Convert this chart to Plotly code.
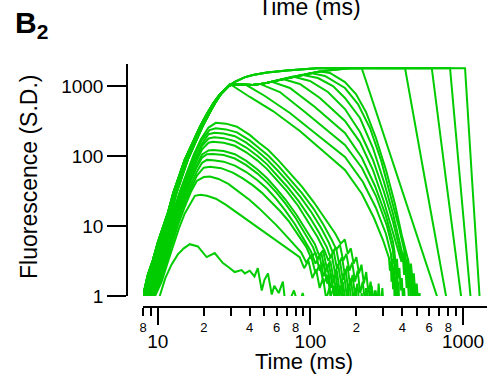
import plotly.graph_objects as go

# ---------------- data: time (ms) and fluorescence (S.D.) ----------------
# shared rising phase (three slightly shifted versions of the bundle)
RISE_A_T = [7.9, 8.0, 8.6, 9.3, 10.0, 10.8, 11.7, 12.6, 13.8, 15.0, 16.8, 18.9, 21.0, 23.1, 25.5, 28.7]
RISE_A_F = [0.8, 1.0, 2.0, 3.3, 5.8, 9.8, 16, 29, 50, 88, 150, 262, 400, 564, 760, 981]
RISE_B_T = [8.2, 8.3, 8.9, 9.6, 10.3, 11.1, 12.0, 12.9, 14.1, 15.4, 17.2, 19.3, 21.4, 23.5, 25.9, 29.2]
RISE_B_F = [0.8, 1.0, 2.0, 3.3, 5.8, 9.8, 16, 29, 50, 88, 150, 262, 400, 570, 770, 1000]
RISE_C_T = [8.5, 8.6, 9.2, 9.9, 10.6, 11.4, 12.3, 13.2, 14.4, 15.7, 17.5, 19.6, 21.7, 23.8, 26.2, 29.6]
RISE_C_F = [0.8, 1.0, 2.0, 3.3, 5.8, 9.8, 16, 29, 50, 88, 150, 262, 400, 575, 790, 1030]

# saturating band (upper and lower edge) and plateau
UPPER_T = [32, 37, 42, 52, 70, 90, 110, 130, 155]
UPPER_F = [1150, 1330, 1440, 1560, 1660, 1740, 1790, 1800, 1795]
LOWER_T = [31, 35, 41.8, 50, 60, 70.1, 80, 90, 100, 110.3, 130, 156]
LOWER_F = [1060, 1045, 1033, 1090, 1190, 1301, 1390, 1460, 1530, 1585, 1670, 1750]
PLATEAU_T = [180, 230, 280, 340, 400, 470, 550, 640, 740, 850, 960]
PLATEAU_F = [1795, 1805, 1790, 1810, 1798, 1792, 1806, 1795, 1802, 1790, 1800]

# low (non-saturating) responses
LOW_T = [
    [8.6, 9.6, 10.6, 11.6, 12.7, 14.0, 15.5, 17.2, 19.2, 21.5, 24, 28, 33, 40, 46, 53, 62, 72, 88, 105, 125, 145, 158, 168, 176, 184, 192, 200, 208, 216, 224, 232, 240, 248, 256, 264, 272, 280, 288, 296, 304],
    [8.7, 9.7, 10.7, 11.7, 12.8, 14.1, 15.6, 17.3, 19.3, 21.8, 24, 28, 33, 40, 46, 53, 62, 72, 88, 105, 122, 138, 148, 156, 164, 172, 180, 188, 196, 204, 212, 220, 228, 236, 244, 252, 260, 268, 276],
    [8.8, 9.8, 10.8, 11.8, 12.9, 14.2, 15.7, 17.5, 19.5, 21.5, 23.5, 27, 32, 38, 45, 52, 61, 71, 86, 102, 118, 132, 140, 147, 154, 161, 168, 175, 182, 189, 196, 203, 210, 217, 224, 231, 238, 245, 252],
    [8.9, 9.9, 10.9, 11.9, 13.0, 14.3, 15.8, 17.6, 19.5, 21.5, 23.5, 27, 32, 38, 45, 52, 60, 70, 84, 99, 114, 128, 135, 142, 149, 156, 163, 170, 177, 184, 191, 198, 205],
    [9.0, 10.0, 11.0, 12.0, 13.1, 14.4, 15.9, 17.6, 19.5, 21.5, 23, 27, 32, 38, 45, 52, 60, 70, 83, 97, 111, 124, 131, 138, 145, 152, 159, 166, 173, 180, 187, 194, 201],
    [9.1, 10.1, 11.1, 12.1, 13.2, 14.5, 16.0, 17.7, 19.5, 21.5, 23, 27, 32, 38, 45, 52, 60, 69, 81, 94, 107, 114, 121, 128, 135, 142, 149, 156, 163, 170, 177, 184],
    [9.2, 10.2, 11.2, 12.2, 13.3, 14.6, 16.1, 17.8, 19.5, 21, 23, 27, 32, 38, 45, 52, 60, 69, 80, 92, 104, 111, 118, 125, 132, 139, 146, 153, 160, 167, 174, 181],
    [9.3, 10.3, 11.3, 12.3, 13.4, 14.7, 16.2, 17.9, 19.5, 21, 23, 27, 32, 38, 45, 52, 60, 68, 79, 90, 101, 108, 115, 122, 129, 136, 143, 150, 157, 164, 171, 178],
    [9.4, 10.4, 11.4, 12.4, 13.5, 14.8, 16.3, 18, 20, 22, 26, 31, 36, 42, 48, 55, 63, 72, 83, 94, 101, 108, 115, 122, 129, 136, 143, 150, 157, 164, 171],
    [9.5, 10.5, 11.5, 12.5, 13.6, 14.9, 16.4, 18, 20, 22, 25, 29, 34, 40, 46, 52, 60, 68, 77, 87, 94, 101, 108, 115, 122, 129, 136, 143, 150, 157, 164],
    [9.6, 10.6, 11.6, 12.6, 13.7, 15.0, 16.5, 17.5, 19, 21, 24, 28, 33, 38, 44, 50, 58, 66, 75, 85, 91, 97, 103, 109, 115, 121, 127, 133, 139, 145, 151],
    [10.3, 11.2, 12.3, 13.5, 14.8, 16.2, 18.3, 20.9, 23.6, 26.7, 29, 31.9, 35.4, 37.2, 40, 43, 45.2, 48, 50, 52.7, 55.8, 58, 62, 66, 68, 72, 78, 84, 89, 95],
]
LOW_F = [
    [1, 2.6, 5.2, 9.5, 17, 32, 58, 105, 175, 255, 298, 290, 262, 200, 155, 122, 86, 60, 36.5, 22, 12.5, 7.9, 5.6, 6.4, 4.0, 4.8, 2.9, 3.6, 2.1, 2.8, 1.5, 2.2, 1.1, 1.6, 0.8, 1.2, 0.5, 1.5, 0.6, 1.3, 0.5],
    [1, 2.5, 5, 9, 16, 30, 55, 98, 165, 235, 249, 240, 218, 167, 130, 101, 71, 49, 29.5, 17.6, 10.3, 6.3, 4.6, 5.4, 3.2, 4.0, 2.3, 3.0, 1.6, 2.3, 1.1, 1.6, 0.8, 1.2, 0.5, 1.4, 0.6, 1.2, 0.5],
    [1, 2.4, 4.8, 8.8, 16, 29, 52, 92, 150, 205, 214, 210, 192, 155, 117, 89, 62, 43, 26, 15.5, 9.2, 5.8, 4.2, 5.0, 2.9, 3.6, 2.0, 2.7, 1.4, 2.0, 1.0, 1.5, 0.7, 1.1, 0.5, 1.3, 0.6, 1.2, 0.5],
    [1, 2.3, 4.6, 8.5, 15, 27, 48, 85, 140, 178, 185, 180, 163, 132, 100, 76, 54, 37, 22.5, 13.3, 8.0, 5.0, 3.6, 4.4, 2.5, 3.2, 1.7, 2.4, 1.2, 1.8, 0.9, 1.3, 0.5],
    [1, 2.2, 4.4, 8.2, 14.5, 26, 45, 78, 125, 155, 160, 155, 140, 113, 86, 65, 46, 31.5, 19.5, 11.5, 7.0, 4.4, 3.2, 3.9, 2.1, 2.8, 1.5, 2.1, 1.0, 1.5, 0.7, 1.1, 0.5],
    [1, 2.1, 4.2, 7.8, 13.5, 24, 42, 70, 105, 120, 122, 118, 106, 85, 64, 48, 34, 23.5, 14.5, 8.8, 5.5, 3.8, 4.5, 2.5, 3.2, 1.7, 2.3, 1.1, 1.6, 0.8, 1.2, 0.5],
    [1, 2.0, 4.0, 7.4, 13, 23, 40, 66, 95, 106, 107, 103, 92, 74, 56, 42, 30, 20.5, 13, 8.0, 5.0, 3.4, 4.1, 2.2, 2.9, 1.5, 2.1, 1.0, 1.5, 0.7, 1.1, 0.5],
    [1, 1.9, 3.8, 7.0, 12.3, 21, 36, 58, 80, 88, 87, 83, 73, 59, 45, 34, 24, 17, 10.7, 6.6, 4.3, 2.9, 3.7, 1.9, 2.6, 1.3, 1.8, 0.9, 1.3, 0.6, 1.0, 0.5],
    [1, 1.8, 3.5, 6.5, 11.5, 20, 33, 52, 68, 70, 67, 58, 48, 38, 30, 22.5, 16.5, 11.8, 7.6, 5.0, 3.5, 4.2, 2.3, 3.0, 1.5, 2.1, 1.0, 1.4, 0.7, 1.0, 0.5],
    [1, 1.7, 3.3, 6.0, 10.5, 18, 30, 44, 50, 51, 47, 40, 31, 23.5, 18, 14, 10.2, 7.6, 5.6, 4.2, 3.0, 3.8, 2.1, 2.8, 1.5, 2.0, 1.0, 1.4, 0.7, 1.0, 0.5],
    [1, 1.6, 3.0, 5.3, 9.0, 15, 22, 27, 28, 27, 24.5, 20, 15.5, 12.5, 10, 8.2, 6.5, 5.4, 4.4, 3.6, 2.5, 3.2, 1.8, 2.4, 1.3, 1.8, 0.9, 1.3, 0.7, 1.0, 0.5],
    [1, 1.8, 2.8, 3.9, 4.8, 5.5, 5.1, 3.6, 4.1, 2.95, 2.6, 2.2, 2.35, 2.1, 2.3, 1.9, 2.5, 1.2, 1.7, 2.1, 1.05, 1.4, 1.1, 1.6, 0.9, 0.8, 1.2, 0.7, 1.1, 0.6],
]

# saturated responses that leave the band and decay (first point = departure)
MID_RISE = ["A", "B", "C", "A", "B", "C", "A", "B", "C"]
MID_T = [
    [29.66, 40.1, 56.8, 85.3, 115.4, 168.4, 217.7, 261.0, 298.9, 327.1, 332, 336, 340, 344, 348, 352, 356, 359, 362],
    [37.8, 50.3, 73.4, 107, 168.4, 220.9, 268.9, 312.7, 337.2, 341, 345, 349, 353, 357, 361, 365, 368, 372],
    [46.65, 63.1, 92.0, 134.3, 168.4, 217.7, 268.9, 317.4, 347.5, 351, 355, 359, 363, 367, 371, 375, 378, 382],
    [55.9, 73.4, 107, 168.4, 217.7, 264.9, 312.7, 347.5, 355, 362, 369, 376, 383, 390, 397, 404, 411, 418],
    [66.0, 85.3, 115.4, 168.4, 211.2, 257.0, 303.4, 342.3, 374.7, 395, 403, 411, 419, 427, 435, 443],
    [76.8, 99.25, 130.3, 168.4, 211.2, 257.0, 303.4, 347.5, 380.4, 400, 409, 418, 427, 436, 445, 454, 463, 470],
    [88.0, 112.0, 140.5, 168.4, 211.2, 257.0, 303.4, 347.5, 386.2, 405, 414, 423, 432, 441, 450, 459, 468, 477, 486, 494],
    [100.8, 124.5, 168.4, 204.9, 245.6, 290.0, 337.2, 380.4, 416.7, 426, 436, 446, 456, 466, 476, 486, 496, 506],
    [115.4, 134.3, 168.4, 198.8, 231.2, 268.9, 312.7, 358.1, 398.1, 436.0, 446, 456, 466, 476, 486, 497, 508, 519, 530],
]
MID_F = [
    [1068, 697, 439, 228, 130, 63.1, 28.7, 13.0, 6.31, 3.49, 2.3, 3.1, 1.6, 2.4, 1.25, 1.8, 0.95, 1.4, 0.6],
    [1040, 720, 412, 213, 96.8, 42.5, 18.1, 7.69, 3.98, 2.6, 3.4, 1.8, 2.6, 1.3, 1.9, 0.95, 1.5, 0.6],
    [1070, 821, 425, 220, 144, 67.4, 26.8, 10.0, 4.54, 2.9, 3.8, 2.0, 2.8, 1.4, 2.1, 1.0, 1.6, 0.6],
    [1150, 936, 501, 213, 93.6, 37.3, 13.9, 5.91, 4.4, 2.6, 3.4, 1.8, 2.5, 1.2, 1.8, 0.9, 1.3, 0.6],
    [1255, 1068, 674, 316, 158, 63.1, 22.0, 9.0, 4.6, 3.1, 3.8, 2.0, 2.7, 1.3, 1.8, 0.8],
    [1360, 1179, 821, 469, 220, 87.7, 30.6, 11.5, 5.0, 3.3, 4.0, 2.2, 2.9, 1.4, 1.9, 0.9, 1.2, 0.5],
    [1450, 1301, 1000, 674, 349, 130, 42.5, 15.0, 5.8, 3.6, 4.3, 2.4, 3.1, 1.5, 2.0, 1.0, 1.4, 0.6, 0.9, 0.5],
    [1535, 1389, 936, 553, 251, 87.7, 26.8, 9.5, 4.0, 2.7, 3.4, 1.8, 2.4, 1.2, 1.7, 0.85, 1.2, 0.5],
    [1610, 1534, 1140, 769, 425, 181, 63.1, 20.6, 7.20, 3.3, 2.3, 2.9, 1.6, 2.1, 1.1, 1.5, 0.8, 1.1, 0.5],
]

# long saturated responses with a steep final drop
DROP_RISE = ["A", "B", "C", "A", "B"]
DROP_BAND = ["lower", "upper", "lower", "upper", "upper"]
DROP_T = [
    [217, 377, 675, 700],
    [417, 564, 774, 790],
    [624, 774, 971, 985],
    [822, 956, 1120, 1130],
    [1031, 1146, 1282, 1292],
]
DROP_F = [1795, 45.4, 1.0, 0.78]

# axis tick values
Y_TICKS = [1, 10, 100, 1000]
X_MAJOR = [10, 100, 1000]
X_MINOR = [8, 9, 20, 30, 40, 50, 60, 70, 80, 90, 200, 300, 400, 500, 600, 700, 800, 900]
X_MINOR_TEXT = ["8", "", "2", "", "4", "", "6", "", "8", "", "2", "", "4", "", "6", "", "8", ""]

# ---------------- figure ----------------
GREEN = "rgb(0,204,0)"
FONT = "Liberation Sans, Arial, Helvetica, sans-serif"
RISES = {"A": (RISE_A_T, RISE_A_F), "B": (RISE_B_T, RISE_B_F), "C": (RISE_C_T, RISE_C_F)}
BANDS = {"upper": (UPPER_T, UPPER_F), "lower": (LOWER_T, LOWER_F)}


def saturated_path(rise, band, t_dep):
    t = list(RISES[rise][0])
    f = list(RISES[rise][1])
    bt, bf = BANDS[band]
    for a, b in zip(bt + PLATEAU_T, bf + PLATEAU_F):
        if t[-1] < a < t_dep:
            t.append(a)
            f.append(b)
    return t, f


fig = go.Figure()


def add(t, f):
    fig.add_trace(go.Scatter(x=t, y=f, mode="lines", line=dict(color=GREEN, width=2),
                             showlegend=False, hoverinfo="skip"))


for t, f in zip(LOW_T, LOW_F):
    add(t, f)

for rise, t, f in zip(MID_RISE, MID_T, MID_F):
    bt, bf = saturated_path(rise, "lower", t[0])
    add(bt + t, bf + f)

for rise, band, t in zip(DROP_RISE, DROP_BAND, DROP_T):
    bt, bf = saturated_path(rise, band, t[0])
    add(bt + t, bf + DROP_F)

# trace to register the minor-label axis
fig.add_trace(go.Scatter(x=[], y=[], xaxis="x2", yaxis="y", showlegend=False, hoverinfo="skip"))

axis_common = dict(type="log", showgrid=False, zeroline=False, automargin=False,
                   ticks="outside", tickcolor="black", tickwidth=1.5)

fig.update_layout(
    width=492, height=378,
    margin=dict(l=127, r=5, t=64, b=71),
    paper_bgcolor="white", plot_bgcolor="white",
    font=dict(family=FONT, color="black"),
    showlegend=False,
    xaxis=dict(**axis_common, range=[0.90309, 3.157], domain=[0.04444, 1],
               anchor="free", position=0, showline=True, linecolor="black", linewidth=1.5,
               ticklen=17, tickvals=X_MAJOR, ticktext=[str(v) for v in X_MAJOR],
               tickfont=dict(size=19, family=FONT, color="black")),
    xaxis2=dict(**axis_common, range=[0.90309, 3.157], overlaying="x",
                anchor="free", position=0, showline=False,
                ticklen=8, tickvals=X_MINOR, ticktext=X_MINOR_TEXT,
                tickfont=dict(size=13, family=FONT, color="black")),
    yaxis=dict(**axis_common, range=[0, 3.3143], domain=[0.04527, 1],
               anchor="free", position=0, showline=True, linecolor="black", linewidth=1.5,
               ticklen=19, tickvals=Y_TICKS, ticktext=[str(v) for v in Y_TICKS],
               tickfont=dict(size=19, family=FONT, color="black")),
    annotations=[
        dict(text="<b>B<sub>2</sub></b>", x=-0.3167, y=1.2469, xref="paper", yref="paper",
             xanchor="left", yanchor="top", showarrow=False, font=dict(size=30, family=FONT)),
        dict(text="Fluorescence (S.D.)", textangle=-90, x=-0.2722, y=0.535, xref="paper",
             yref="paper", xanchor="center", yanchor="middle", showarrow=False,
             font=dict(size=23, family=FONT)),
        dict(text="Time (ms)", x=0.4917, y=-0.1646, xref="paper", yref="paper",
             xanchor="center", yanchor="top", showarrow=False, font=dict(size=22, family=FONT)),
        dict(text="Time (ms)", x=0.5069, y=1.2963, xref="paper", yref="paper",
             xanchor="center", yanchor="top", showarrow=False, font=dict(size=23, family=FONT)),
    ],
)

fig.write_html("out.html")
